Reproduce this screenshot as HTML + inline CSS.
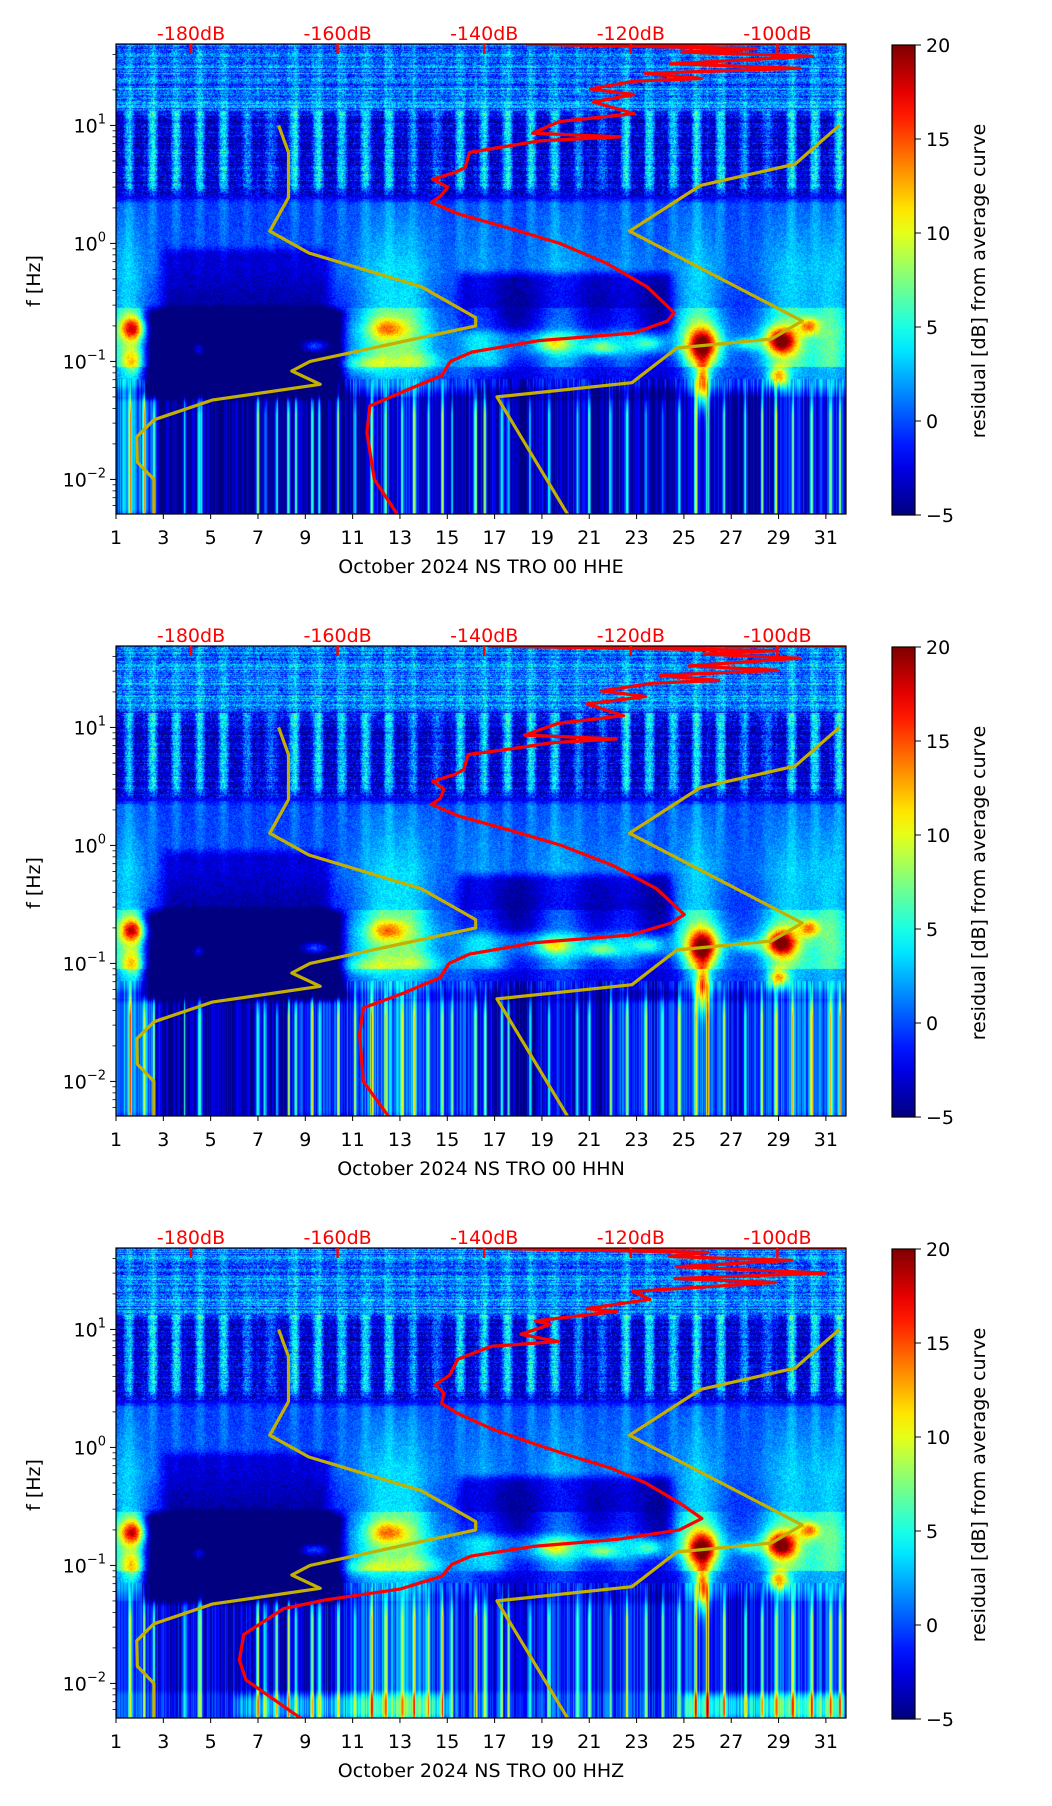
<!DOCTYPE html>
<html><head><meta charset="utf-8">
<style>
html,body{margin:0;padding:0;background:#fff;}
#wrap{position:relative;width:1052px;height:1806px;overflow:hidden;font-family:"DejaVu Sans","Liberation Sans",sans-serif;}
canvas{position:absolute;left:0;top:0;}
svg{position:absolute;left:0;top:0;}
</style></head>
<body>
<div id="wrap">
<canvas id="cv" width="1052" height="1806"></canvas>
<svg id="sv" width="1052" height="1806" xmlns="http://www.w3.org/2000/svg"></svg>
</div>
<script>
// ---------- data ----------
const panelTitles = ["October 2024 NS TRO 00 HHE","October 2024 NS TRO 00 HHN","October 2024 NS TRO 00 HHZ"];
const dayTicks = [1,3,5,7,9,11,13,15,17,19,21,23,25,27,29,31];
const dbTicks = [-180,-160,-140,-120,-100];
const dbTickLabels = ["-180dB","-160dB","-140dB","-120dB","-100dB"];
const freqDecades = [1,0,-1,-2];
const cbTicks = [20,15,10,5,0,-5];
const cbTickLabels = ["20","15","10","5","0","\u22125"];

const red1Db = [-151.8,-155,-156,-155.6,-150.9,-145.8,-144.6,-141.7,-132.5,-119.6,-115,-114.1,-117.8,-123.3,-129.7,-136.1,-143.5,-147.2,-146,-145,-147,-144,-142.6,-142,-138,-132.5,-121.5,-133.4,-129.7,-119.6,-125.1,-119.6,-125.5,-119.6,-110.4,-118,-97,-114.6,-95.2,-113,-103,-134.3,-60];
const red1F  = [0.005,0.01,0.025,0.042,0.056,0.076,0.1,0.12,0.15,0.174,0.22,0.26,0.43,0.68,1,1.32,1.78,2.23,2.5,3.0,3.5,4.0,4.4,5.9,6.5,7.4,8,8.6,10.8,12.6,15.8,18.3,20.4,23.7,25,27.6,30.5,33.3,38.6,41.8,44.8,48.9,48.9];
const red2Db = [-153,-156.5,-157,-156.5,-151,-146,-144.8,-142,-133,-120,-114.5,-112.7,-116.5,-122.5,-129.5,-136,-143.5,-147.2,-146,-145.5,-147,-144,-142.8,-142.2,-137,-131,-122,-134.5,-130,-121,-126,-118,-124,-117,-108,-116,-100,-112,-97,-110,-100,-139,-60];
const red2F  = red1F.slice();
const red3Db = [-164.9,-172.5,-173.4,-172.8,-167.4,-161.7,-151.5,-145.8,-144.4,-141.8,-133.3,-121.9,-113.4,-110.3,-113.4,-118,-122.5,-128.7,-133.3,-139,-143.6,-145.8,-145.5,-146.7,-144.7,-143.6,-139,-129.9,-135,-131,-133,-121.9,-126,-117.4,-119.7,-100.3,-114,-93.5,-113.8,-98,-114.7,-109.5,-141,-60];
const red3F  = [0.005,0.0107,0.0158,0.026,0.043,0.051,0.063,0.081,0.102,0.12,0.145,0.166,0.20,0.25,0.34,0.50,0.66,0.87,1.08,1.44,1.94,2.36,2.9,3.4,4.1,5.6,7.2,7.9,9.1,11,11.8,14.2,15,18,21,25,27,30,34,38.5,41.5,45,48.9,48.9];

const yelA_day = [7.87,8.29,8.29,7.5,9.15,13.9,16.2,16.2,9.2,8.43,9.63,5.06,2.6,1.88,1.9,2.6,2.6];
const yelA_f   = [10,5.9,2.45,1.27,0.83,0.43,0.235,0.2,0.1,0.083,0.064,0.047,0.032,0.023,0.014,0.01,0.005];
const yelB_day = [31.57,29.7,25.7,22.7,30.0,28.7,24.7,22.8,17.1,20.1];
const yelB_f   = [10,4.7,3.1,1.27,0.22,0.155,0.13,0.066,0.05,0.005];

const baseLf = [1.75,1.15,1.12,1.05,0.42,0.33,-0.2,-0.5,-0.6,-0.75,-1.0,-1.2,-1.3,-2.05,-2.1,-2.3];
const baseLv1 = [0.5,0.5,-1.5,-3,-3,-0.5,0,-1,-1,0,-0.5,-1,-4.5,-4.5,-4.5,-4.5];
const baseLv2 = [0.5,0.5,-1.5,-3,-3,-0.5,0,-1,-1,0,-0.5,-1,-4.2,-4.2,-4.2,-4.2];
const baseLv3 = [0.5,0.5,-1.5,-3,-3,-0.5,0,-1,-1,0,-0.5,-1,-2.8,-2.8,-1.5,-1.5];
const stormDay = [1.5,12.3,13.6,16.4,19.8,22.5,25.6,29.5,31.3];
const stormAmp = [1.0,1.0,0.7,0.6,0.8,0.5,1.0,1.0,0.9];
const stormWid = [0.8,1.2,1.0,1.0,1.2,1.0,1.0,1.2,0.8];
const blobDay = [1.7,12.5,25.8,29.1,30.3,25.8,29.0,9.4,4.5,19.5,21.5,23.5,27.7,11.5,14.0,17.0,1.7];
const blobLf  = [-0.72,-0.72,-0.86,-0.83,-0.7,-1.2,-1.12,-0.87,-0.9,-0.85,-0.88,-0.85,-0.85,-1.02,-1.0,-1.0,-1.0];
const blobAmp = [12,7,16,16,9,13,11,7,5,6,6,5,5,4,3,3,6];
const blobSd  = [0.35,0.55,0.45,0.45,0.3,0.2,0.3,0.45,0.2,0.45,0.45,0.4,0.45,0.8,0.8,0.6,0.3];
const blobSlf = [0.07,0.06,0.1,0.08,0.05,0.13,0.06,0.04,0.04,0.04,0.04,0.04,0.04,0.05,0.05,0.05,0.08];
const patches1 = [[2.2,10.6,-1.3,-0.56,-7],[3,10,-0.6,-0.05,-3],[15.5,24.5,-0.75,-0.25,-4],[16,25,-1.3,-0.95,-2.5],[1,2.6,-2.3,-1.3,4]];
const patches2 = [[2.2,10.6,-1.3,-0.56,-7],[3,10,-0.6,-0.05,-3],[15.5,24.5,-0.75,-0.25,-4],[16,25,-1.3,-0.95,-2.5],[1,2.6,-2.3,-1.3,4],[8.5,16,-2.3,-1.3,3],[22,32,-2.3,-1.3,2.5]];
const patches3 = [[2.2,10.6,-1.3,-0.56,-7],[3,10,-0.6,-0.05,-3],[15.5,24.5,-0.75,-0.25,-4],[16,25,-1.3,-0.95,-2.5],[6,15,-2.3,-2.1,4],[25,31.8,-2.3,-2.1,5],[11,15.5,-2.3,-1.3,1.5]];
const spikeDays = [1.6,2.2,2.6,3.9,4.5,4.6,7.0,7.3,7.8,8.3,8.6,9.3,9.6,10.4,11.1,11.8,12.4,13.1,13.6,14.2,14.8,15.2,16.2,16.6,17.3,17.6,18.5,19.3,20.5,21.0,21.9,22.6,23.4,24.1,24.8,25.5,26.0,26.7,27.6,28.3,28.9,29.6,30.4,31.2,31.6];
const spikeAmp  = [12,11,10,8,9,7,12,8,10,13,11,12,9,11,8,12,11,9,12,8,11,9,15,12,11,9,8,9,8,11,9,12,9,8,11,12,15,11,9,11,12,11,13,11,12];
const dayStripeAmp = [0.8,1,1,0.9,1,0.6,0.5,1,1,0.9,1,1,0.6,0.5,1,0.9,1,1,1,0.6,0.5,1,1,0.9,1,1,0.6,0.5,1,1,1,0.9];

// ---------- layout ----------
const L=116, R=846, PW=R-L, PH=470;
const tops=[44,646,1248];
const D0=1, D1=31.85, LFTOP=1.69, DEC=118;
const xDay = d => L + (d-D0)/(D1-D0)*PW;
const yLf = (top,lf) => top + (LFTOP-lf)*DEC;
const yF = (top,f) => yLf(top,Math.log10(f));
const xDb = db => 191 + (db+180)*7.33;

function interp(xs, ys, x){
  if (x>=xs[0]) return ys[0];
  for (let i=1;i<xs.length;i++){ if (x>=xs[i]){ const t=(x-xs[i])/(xs[i-1]-xs[i]); return ys[i]+(ys[i-1]-ys[i])*t; } }
  return ys[ys.length-1];
}
function jet(t){ t=Math.max(0,Math.min(1,t));
  const c=v=>Math.max(0,Math.min(1,v));
  return [c(1.5-Math.abs(4*t-3))*255,c(1.5-Math.abs(4*t-2))*255,c(1.5-Math.abs(4*t-1))*255]; }
function hash(a,b){ let h=(a*374761393 + b*668265263)|0; h=(h^(h>>>13))*1274126177|0; h=h^(h>>>16); return ((h>>>0)%10000)/5000-1; }
function smooth(x,a,b,w){ const l=Math.min(1,Math.max(0,(x-a)/w+0.5)), r=Math.min(1,Math.max(0,(b-x)/w+0.5)); const s=t=>t*t*(3-2*t); return s(l)*s(r); }

// ---------- heatmap ----------
const cv=document.getElementById('cv'); const ctx=cv.getContext('2d');
ctx.fillStyle='#fff'; ctx.fillRect(0,0,1052,1806);
const baseSets=[baseLv1,baseLv2,baseLv3], patchSets=[patches1,patches2,patches3];
for (let p=0;p<3;p++){
  const img=ctx.createImageData(PW,PH); const dat=img.data;
  const top=tops[p];
  const colDay=[],colStripe=[],colStorm=[],colSpike=[],colN=[];
  for (let x=0;x<PW;x++){
    const d=D0+(x+0.5)/PW*(D1-D0); colDay.push(d);
    const ph=d-Math.floor(d); let s=Math.cos(2*Math.PI*(ph-0.55)); s=s>0?Math.pow(s,0.8):0;
    s*=dayStripeAmp[Math.min(dayStripeAmp.length-1,Math.floor(d)-1)];
    colStripe.push(s);
    let sm=0; for(let i=0;i<stormDay.length;i++){ sm+=stormAmp[i]*Math.exp(-Math.pow((d-stormDay[i])/stormWid[i],2)); }
    colStorm.push(Math.min(1.1,sm));
    let sp=0; for(let i=0;i<spikeDays.length;i++){ sp+=spikeAmp[i]*Math.exp(-Math.pow((d-spikeDays[i])/0.06,2)); } colSpike.push(sp);
    colN.push(hash(x*7+p,99));
  }
  for (let y=0;y<PH;y++){
    const lf=LFTOP-(y+0.5)/DEC;
    const base=interp(baseLf,baseSets[p],lf);
    const rowN=hash(y*13+p*5,7);
    for (let x=0;x<PW;x++){
      const d=colDay[x];
      let v=base;
      const s=colStripe[x];
      if (lf>0.38 && lf<1.12) v+=7*s*(lf<0.5?(lf-0.38)/0.12:1);
      else if (lf>=1.12) v+=1.8*s;
      else if (lf>-0.4) v+=2.0*s*(lf+0.4)/0.78;
      const sa=colStorm[x];
      let prof=0;
      if (lf>-1.05 && lf<=-0.55) prof=7; else if (lf>-0.55 && lf<0.35) prof=4.5-(lf+0.55)/0.9*3.5; else if (lf>-1.3 && lf<=-1.05) prof=3.5; else if (lf<=-1.3) prof=2.5;
      v+=sa*prof;
      for (let i=0;i<blobDay.length;i++){ const dd=(d-blobDay[i])/blobSd[i]; if (Math.abs(dd)>3) continue; const dl=(lf-blobLf[i])/blobSlf[i]; v+=blobAmp[i]*Math.exp(-(dd*dd+dl*dl)/2); }
      const pt=patchSets[p];
      for (let i=0;i<pt.length;i++){ const q=pt[i]; const w=smooth(d,q[0],q[1],0.8)*smooth(lf,q[2],q[3],0.12); if (w>0) v+=q[4]*w; }
      if (lf<-1.15) v+=colSpike[x]*Math.min(1,(-1.15-lf)/0.3) + colN[x]*2.5;
      else if (lf>0.4) v+=colSpike[x]*0.1;
      const n=hash(x,y+p*1000);
      if (lf>0.4) v+=n*2.6 + rowN*(lf>1.12?2.0:1.0); else if (lf>-1.15) v+=n*1.2;
      const c=jet((v+5)/25);
      const k=(y*PW+x)*4; dat[k]=c[0]; dat[k+1]=c[1]; dat[k+2]=c[2]; dat[k+3]=255;
    }
  }
  ctx.putImageData(img,L,top);
}

// ---------- overlay ----------
const NS='http://www.w3.org/2000/svg'; const sv=document.getElementById('sv');
function mk(tag,attrs,parent){ const e=document.createElementNS(NS,tag); for(const k in attrs) e.setAttribute(k,attrs[k]); (parent||sv).appendChild(e); return e; }
const defs=mk('defs',{});
const grad=mk('linearGradient',{id:'jetg',x1:'0',y1:'1',x2:'0',y2:'0'},defs);
for (let i=0;i<=20;i++){ const c=jet(i/20); mk('stop',{offset:(i/20).toString(),'stop-color':`rgb(${c[0]|0},${c[1]|0},${c[2]|0})`},grad); }

for (let p=0;p<3;p++){
  const top=tops[p], bot=top+PH;
  const g=mk('g',{});
  
  
  const cp=mk('clipPath',{id:'clip'+p},defs); mk('rect',{x:L,y:top,width:PW,height:PH},cp);
  const lines=mk('g',{'clip-path':`url(#clip${p})`},g);
  
  
  [[yelA_day,yelA_f],[yelB_day,yelB_f]].forEach((yy,j)=>{
    const pts=yy[0].map((d,i)=>xDay(d).toFixed(1)+','+yF(top,yy[1][i]).toFixed(1)).join(' ');
    const pl=mk('polyline',{points:pts,fill:'none',stroke:'#c4b000',"stroke-width":3.2,"stroke-linejoin":'round'},lines);
    
    
  });
  const rd=[red1Db,red2Db,red3Db][p], rf=[red1F,red2F,red3F][p];
  const rpts=rd.map((db,i)=>xDb(db).toFixed(1)+','+yF(top,rf[i]).toFixed(1)).join(' ');
  const rl=mk('polyline',{points:rpts,fill:'none',stroke:'#ff0000',"stroke-width":3.2,"stroke-linejoin":'round'},lines);
  
  
  const fr=mk('rect',{x:L,y:top,width:PW,height:PH,fill:'none',stroke:'#000',"stroke-width":1.2},g);
  
  
  dayTicks.forEach(d=>{ const x=xDay(d); mk('line',{x1:x,y1:bot,x2:x,y2:bot+5,stroke:'#000'},g);
    const t=mk('text',{x:x,y:bot+30,'font-size':19,'text-anchor':'middle',fill:'#000'},g); t.textContent=d;
    
     });
  const xl=mk('text',{x:(L+R)/2,y:bot+59,'font-size':19,'text-anchor':'middle',fill:'#000'},g); xl.textContent=panelTitles[p];
  
  
  dbTicks.forEach((db,i)=>{ const x=xDb(db); mk('line',{x1:x,y1:top,x2:x,y2:top+10,stroke:'#ff0000','stroke-width':2.5},g);
    const t=mk('text',{x:x,y:top-4,'font-size':19,'text-anchor':'middle',fill:'#ff0000'},g); t.textContent=dbTickLabels[i];
    
     });
  freqDecades.forEach(e=>{ const y=yLf(top,e); mk('line',{x1:L,y1:y,x2:L-6,y2:y,stroke:'#000'},g);
    const t=mk('text',{x:106,y:y+7,'font-size':19,'text-anchor':'end',fill:'#000'},g);
    
    
    const a=mk('tspan',{},t); a.textContent='10'; const b=mk('tspan',{dy:-9,'font-size':13},t); b.textContent=(e<0?'\u2212':'')+Math.abs(e); });
  for (let e=-3;e<=1;e++) for (let m=2;m<=9;m++){ const lf=e+Math.log10(m); if (lf>LFTOP||lf<LFTOP-PH/DEC) continue; const y=yLf(top,lf); mk('line',{x1:L,y1:y,x2:L-3.5,y2:y,stroke:'#000','stroke-width':0.8},g); }
  const yl=mk('text',{x:0,y:0,'font-size':19,'text-anchor':'middle',fill:'#000',transform:`translate(40,${top+237}) rotate(-90)`},g); yl.textContent='f [Hz]';
  
  
  const cb=mk('g',{},g);
  
  
  mk('rect',{x:892,y:top+1,width:23,height:PH,fill:'url(#jetg)',stroke:'#000','stroke-width':1.2},cb);
  cbTicks.forEach((v,i)=>{ const y=top+1+(20-v)/25*PH; mk('line',{x1:915,y1:y,x2:921,y2:y,stroke:'#000'},cb);
    const t=mk('text',{x:926,y:y+7,'font-size':19,fill:'#000'},cb); t.textContent=cbTickLabels[i];
    
     });
  const cl=mk('text',{x:0,y:0,'font-size':19,'text-anchor':'middle',fill:'#000',transform:`translate(985,${top+237}) rotate(-90)`},cb); cl.textContent='residual [dB] from average curve';
  
  
}
</script>
</body></html>
